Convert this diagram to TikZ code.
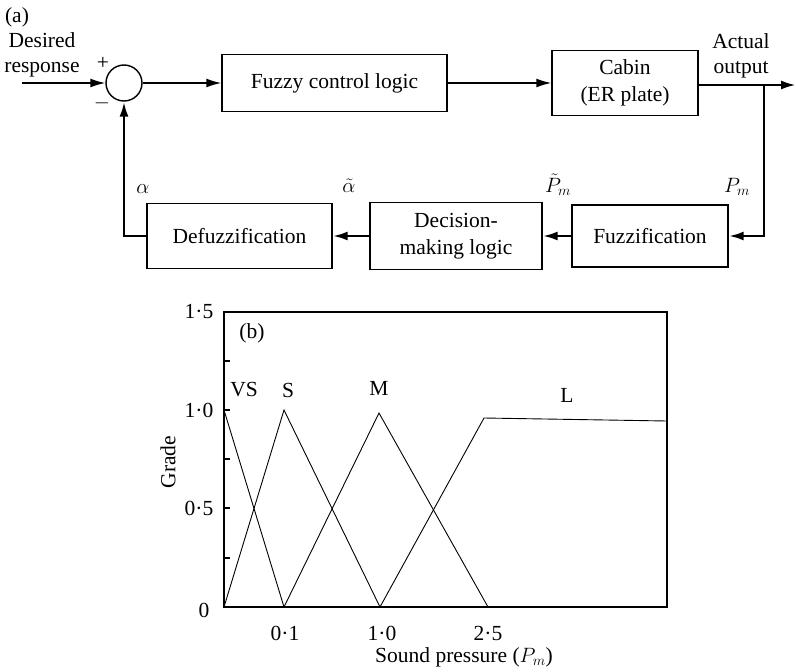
\documentclass[tikz,border=0pt]{standalone}
\usepackage{fontspec}
\setmainfont{Liberation Serif}
\usetikzlibrary{arrows.meta}
\begin{document}
\begin{tikzpicture}[x=1pt,y=-1pt,
    blk/.style={draw,line width=1.4pt,inner sep=0pt,align=center,font=\fontsize{21.5}{27}\selectfont},
    txt/.style={inner sep=0pt,align=center,font=\fontsize{21.5}{25}\selectfont},
    sig/.style={line width=1.6pt,-{Latex[length=15pt,width=9pt]}},
    fb/.style={line width=2.6pt,-{Latex[length=15pt,width=9pt]}},
    mf/.style={line width=0.9pt}]
    \useasboundingbox (0,0) rectangle (796,672);
    % Diagrama de blocos (a)
    \node[txt] (tagA) at (17,17) {(a)};
    \node[txt] (des) at (42,55) {Desired\\response};
    \coordinate (inp) at (22,83);
    \node[draw,circle,line width=1.4pt,minimum size=36pt,inner sep=0pt] (sum) at (124,83) {};
    \node[txt] (plus) at (103,63) {+};
    \node[txt] (minus) at (102,103) {$-$};
    \node[blk,minimum width=225pt,minimum height=57pt] (fcl) at (334.5,83) {Fuzzy control logic};
    \node[blk,minimum width=146pt,minimum height=65pt] (cab) at (625,83) {Cabin\\(ER plate)};
    \node[txt] (act) at (741,56) {Actual\\output};
    \coordinate (outp) at (796,85);
    \coordinate (br) at (764,85);
    \node[blk,minimum width=156pt,minimum height=62pt] (fuz) at (650,236) {Fuzzification};
    \node[blk,minimum width=172pt,minimum height=67pt] (dml) at (456,236) {Decision-\\making logic};
    \node[blk,minimum width=185pt,minimum height=65pt] (dfz) at (239.5,236) {Defuzzification};
    % Sinais
    \draw[sig] (inp) -- (sum.west);
    \draw[sig] (sum.east) -- (fcl.west);
    \draw[sig] (fcl.east) -- (cab.west);
    \draw[fb] (cab.east |- outp) -- (outp);
    \draw[fb] (br) |- (fuz.east);
    \draw[fb] (fuz.west) -- (dml.east);
    \draw[fb] (dml.west) -- (dfz.east);
    \draw[fb] (dfz.west) -| (sum.south);
    % Rotulos dos sinais
    \node[txt] (la) at (143,189) {$\alpha$};
    \node[txt] (lat) at (349,186) {$\tilde{\alpha}$};
    \node[txt] (lpt) at (558,185) {$\tilde{P}_m$};
    \node[txt] (lp) at (737,187) {$P_m$};
    % Funcoes de pertinencia (b)
    \draw[line width=1.5pt] (224,312) rectangle (667,607);
    \foreach \y in {361,410,459,508,558}
        \draw[line width=1.2pt] (224,\y) -- (230,\y);
    \node[txt] (y15) at (199,312) {1·5};
    \node[txt] (y10) at (199,410) {1·0};
    \node[txt] (y05) at (199,508) {0·5};
    \node[txt] (y0) at (204,610) {0};
    \node[txt] (x01) at (285,633) {0·1};
    \node[txt] (x10) at (382,633) {1·0};
    \node[txt] (x25) at (488,633) {2·5};
    \node[txt] (xl) at (464,657) {Sound pressure ($P_m$)};
    \node[txt,rotate=90] (yl) at (168,462) {Grade};
    \node[txt] (tagB) at (252,333) {(b)};
    \node[txt] (vs) at (244,390) {VS};
    \node[txt] (s) at (288,390) {S};
    \node[txt] (m) at (379,388) {M};
    \node[txt] (l) at (567,395) {L};
    % Curvas
    \draw[mf] (224,410) -- (284,607);
    \draw[mf] (224,607) -- (284,410) -- (380,607);
    \draw[mf] (284,607) -- (379,413) -- (488,607);
    \draw[mf] (380,607) -- (484,418) -- (667,421);
\end{tikzpicture}
\end{document}
